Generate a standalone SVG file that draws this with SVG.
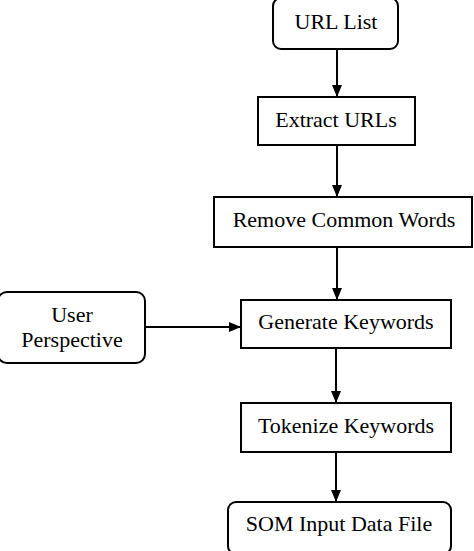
<svg xmlns="http://www.w3.org/2000/svg" width="474" height="551" viewBox="0 0 474 551">
<style>
.box{fill:#fff;stroke:#000;stroke-width:2}
.t{font-family:"Liberation Serif","Times New Roman",serif;font-size:22px;fill:#000;text-anchor:middle}
.c{stroke:#000;stroke-width:2;fill:none;marker-end:url(#ah)}
</style>
<defs>
<marker id="ah" markerWidth="12" markerHeight="10" refX="12" refY="5" orient="auto" markerUnits="userSpaceOnUse">
<path d="M0,0 L12,5 L0,10 Z" fill="#000"/>
</marker>
</defs>
<rect width="474" height="551" fill="#fff"/>
<g id="connectors">
<line class="c" x1="337" y1="49" x2="337" y2="97"/>
<line class="c" x1="337" y1="145" x2="337" y2="197"/>
<line class="c" x1="337" y1="247" x2="337" y2="300"/>
<line class="c" x1="145" y1="327" x2="241" y2="327"/>
<line class="c" x1="336" y1="348" x2="336" y2="403"/>
<line class="c" x1="336" y1="452" x2="336" y2="502"/>
</g>
<g id="url-list">
<rect class="box" x="273" y="-2" width="125" height="51" rx="8"/>
<text class="t" x="336" y="29">URL List</text>
</g>
<g id="extract-urls">
<rect class="box" x="258" y="97" width="157" height="48"/>
<text class="t" x="336" y="127">Extract URLs</text>
</g>
<g id="remove-common-words">
<rect class="box" x="214" y="197" width="258" height="50"/>
<text class="t" x="344" y="227">Remove Common Words</text>
</g>
<g id="user-perspective">
<rect class="box" x="-2" y="292" width="147" height="71" rx="9"/>
<text class="t" x="72" y="322">User</text>
<text class="t" x="72" y="347">Perspective</text>
</g>
<g id="generate-keywords">
<rect class="box" x="241" y="300" width="210" height="48"/>
<text class="t" x="346" y="329">Generate Keywords</text>
</g>
<g id="tokenize-keywords">
<rect class="box" x="241" y="403" width="210" height="49"/>
<text class="t" x="346" y="433">Tokenize Keywords</text>
</g>
<g id="som-input-data-file">
<rect class="box" x="228" y="502" width="223" height="52" rx="8"/>
<text class="t" x="339" y="531">SOM Input Data File</text>
</g>
</svg>
